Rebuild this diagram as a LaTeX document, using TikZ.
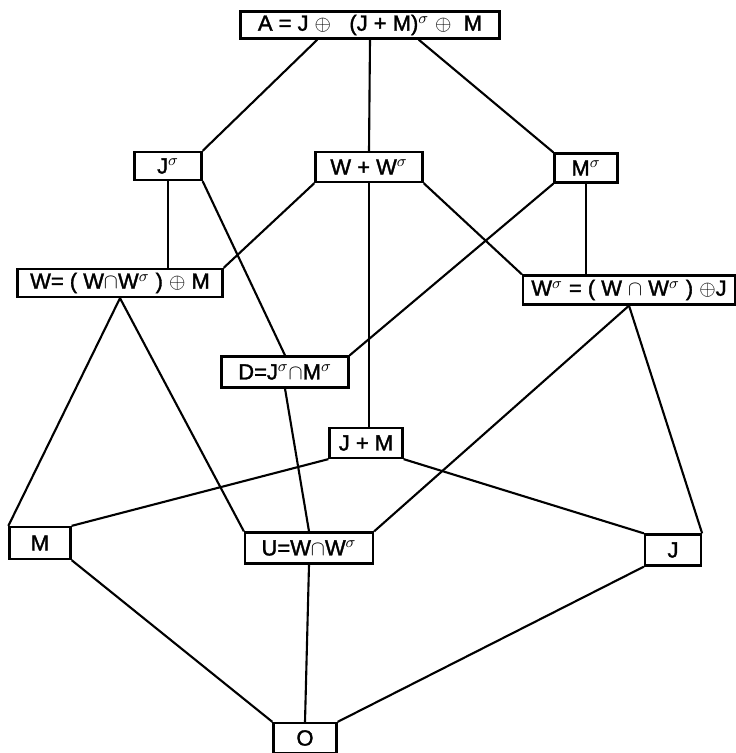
\documentclass[tikz,border=0pt]{standalone}
\usepackage{fontspec}
\setmainfont{Liberation Sans}
\newfontfamily\latfont{Liberation Sans}[RawFeature={embolden=1.6}]
\usepackage{tikz}
\usetikzlibrary{positioning}

\begin{document}
\begin{tikzpicture}[
        x=0.02cm, y=-0.02cm,
        elem/.style={draw=black, line width=1.3pt, inner sep=0pt, font=\latfont\fontsize{12.5}{14}\selectfont},
        link/.style={line width=1.2pt}
      ]
        \useasboundingbox (0,0) rectangle (736,753);
        % top element
        \node[elem, minimum width=5.18cm, minimum height=0.54cm] (A) at (370,25) {A = J $\oplus$\ \ \ (J + M)$^{\sigma}$ $\oplus$ \ M};
        % second row
        \node[elem, minimum width=1.34cm, minimum height=0.56cm] (Js) at (168,166) {J$^{\sigma}$};
        \node[elem, minimum width=2.14cm, minimum height=0.6cm] (WWs) at (369,167) {W + W$^{\sigma}$};
        \node[elem, minimum width=1.26cm, minimum height=0.58cm] (Ms) at (586,168) {M$^{\sigma}$};
        % third row
        \node[elem, minimum width=4.1cm, minimum height=0.56cm] (W) at (120,283) {W= ( W$\cap$W$^{\sigma}$ ) $\oplus$ M};
        \node[elem, minimum width=4.24cm, minimum height=0.58cm] (Ws) at (629,290) {W$^{\sigma}$ = ( W $\cap$ W$^{\sigma}$ ) $\oplus$J};
        \node[elem, minimum width=2.54cm, minimum height=0.62cm] (D) at (285,372) {D=J$^{\sigma}$$\cap$M$^{\sigma}$};
        \node[elem, minimum width=1.46cm, minimum height=0.6cm] (JM) at (366,443) {J + M};
        % fourth row
        \node[elem, minimum width=1.22cm, minimum height=0.64cm] (M) at (40,543) {M};
        \node[elem, minimum width=2.56cm, minimum height=0.62cm] (U) at (309,548) {U=W$\cap$W$^{\sigma}$};
        \node[elem, minimum width=1.12cm, minimum height=0.62cm] (J) at (673,550) {J};
        % bottom element
        \node[elem, minimum width=1.26cm, minimum height=0.6cm] (O) at (305,738) {O};

        % covering lines
        \draw[link] ([xshift=1.56cm]A.south west) -- (Js.north east);
        \draw[link] (A.south) -- (WWs.north);
        \draw[link] ([xshift=-1.64cm]A.south east) -- (Ms.north west);
        \draw[link] (Js.south) -- (Js.south |- W.north);
        \draw[link] (Js.south east) -- (D.north);
        \draw[link] (WWs.south west) -- (W.north east);
        \draw[link] (WWs.south east) -- (Ws.north west);
        \draw[link] (WWs.south) -- (WWs.south |- JM.north);
        \draw[link] (Ms.south) -- (Ms.south |- Ws.north);
        \draw[link] (Ms.south west) -- (D.north east);
        \draw[link] (W.south) -- (M.north west);
        \draw[link] (W.south) -- (U.north west);
        \draw[link] (D.south) -- (U.north);
        \draw[link] (Ws.south) -- (U.north east);
        \draw[link] (Ws.south) -- (J.north east);
        \draw[link] (JM.south west) -- (M.north east);
        \draw[link] (JM.south east) -- (J.north west);
        \draw[link] (M.south east) -- (O.north west);
        \draw[link] (U.south) -- (O.north);
        \draw[link] (J.south west) -- (O.north east);
      \end{tikzpicture}
\end{document}
